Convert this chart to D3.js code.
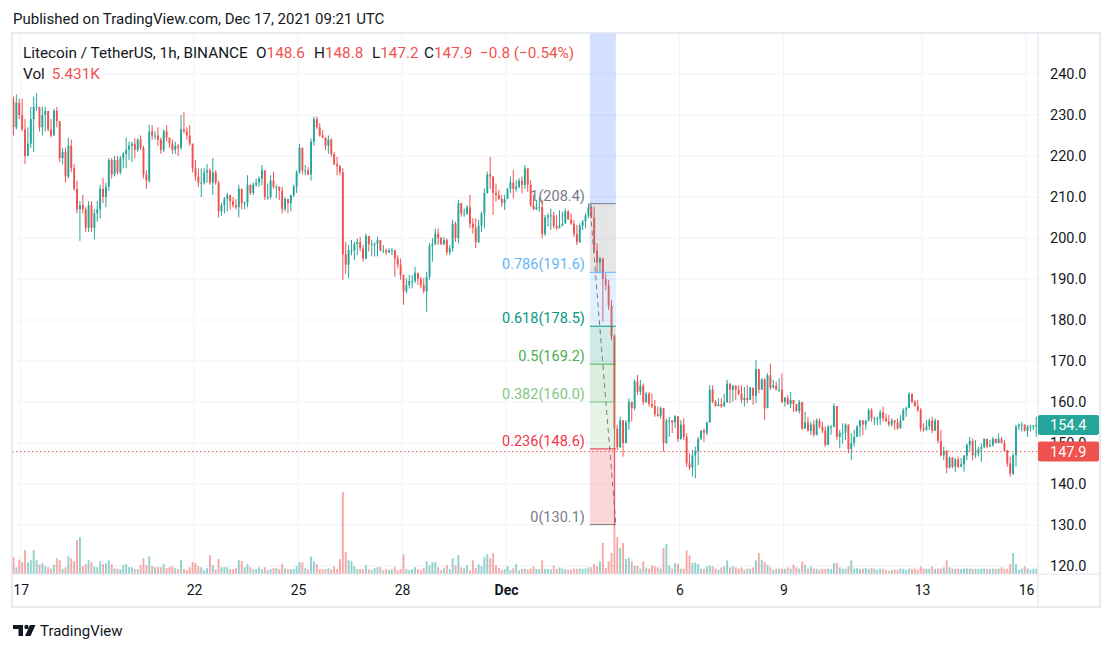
<!DOCTYPE html>
<html>
<head>
<meta charset="utf-8">
<script src="https://cdn.jsdelivr.net/npm/d3@7"></script>
<style>
  body { margin: 0; background: #fff; }
  svg text { font-family: Roboto, "Noto Sans", sans-serif; }
</style>
</head>
<body>
<svg id="chart" width="1113" height="652"></svg>
<script>
// LTC/USDT candles, 2h each, first one opens Nov 16 18:00 UTC
const startTime = Date.UTC(2021, 10, 16, 18);
const stepHours = 2;
const firstOpen = 233.5;

const closes = [
  227,233,230,226.5,220,223,229,232,232,227,
  230,231,226.5,225,231,228.5,219.5,221,215,222.5,
  217,212,207,208,207,202.5,208,202.5,206,207,
  212,210,212.5,219,215.5,219,216,219.5,220.5,221.5,
  222.5,223,221.5,224,222,215.5,214,226,225,225,
  224,221.5,226,224.5,223,221.5,222.5,222,226.5,226,
  225,223,217,215,213.5,213.5,216,216.5,213.5,216,
  213.5,206.5,208,209.5,210.5,209,208,207.5,212,208.5,
  208.5,213,211,213,213.5,214.5,216.5,210,210,214,
  212.5,212.5,211.5,207,209.5,208.5,210.5,212.5,216,222,
  216.5,216.5,215.5,223.5,229,227,225,224.5,222.5,224,
  220.5,218,217.5,216,196,193.5,197,197,198.5,199,
  197.5,195,200.5,198.5,198.5,198.5,199.5,197,197,196.5,
  197,197,195,193.5,191,187,188.5,189.5,189.5,191.5,
  190,188.5,187,190.5,198,198.5,201,200,198.5,199.5,
  196.5,197.5,203.5,200,208.5,206,206,207.5,203.5,202.5,
  199,203,206,211,215.5,215,211,210.5,209.5,208.5,
  209.5,212,213.5,212,212.5,214,213,217,213,208,
  207,207.5,207.5,201,205,205.5,205.5,203,202.5,203,
  203.5,206.5,204.5,203.5,201,199,203,204,205.5,207.5,
  205,197,194,195,190,188.5,183.5,176,153.5,149,
  155.5,150,155,160,158.5,165,162.5,164,160,162,
  159.5,159,157,156.6,158.5,150,155.5,155.5,155,156.5,
  151,154.5,151.5,145,144,147,148,151,153,152.5,
  155,163,160,159,159.5,159,160,164.5,163,164,
  163,162,160.5,161,160.5,163.5,161.5,168,163,165.5,
  158.5,166.5,163.5,164,163,163,160,161,159.5,160.5,
  159.5,157.8,160,153.5,155,153,154.5,152,155.5,154,
  153,149.5,154,154,159,151.5,152.5,152.5,154.5,148.5,
  150,151.5,154,155.5,154.5,155.5,158,156,156,156,
  157.5,156,155.3,154.5,155.5,155,153.6,155.5,158,158.5,
  162,160,159,158,153.5,153.2,154,155.5,153,155.5,
  150.5,147,148,144,146.5,144.2,146,144.2,144.8,146.9,
  149.5,150.5,147,147.5,148.5,149,151,149.2,149.5,151,
  150,151,150,148.2,145,142.5,147,154,154.5,154.5,
  153,154,154,154.2,154.4
];

const highs = [
  234.5,235,234,234,229,227,232,234.5,235.3,232,
  232,232,230.5,229,231.5,232,228.5,222,222,224.5,
  224,218,214,209,210.5,207.5,209,209,207,209,
  213,214.6,213.5,219.5,219.5,220,220,220,221,224.5,
  223.5,223.5,224.3,224.3,225,222.5,216.5,227.6,227.5,226,
  227,224.5,226.5,227.5,224.5,224,223.5,223,230,230.8,
  227,227.5,223,219,217,217,217,218,217,219.5,
  216.5,214,208.5,210,211,210.5,210,209.5,213,212,
  209,215.3,213,213.5,214.5,215,217.8,216.5,213.3,215.3,
  216.2,213,212.5,212.5,210,209.5,210.5,213,216.5,223,
  222,217.8,217.3,224.3,229.6,229.6,228,226.3,224.5,225,
  224.3,221,219.8,217.8,217,199,198.3,199.5,199.1,199.9,
  200.3,198.3,201.1,200.5,199.5,199,200.3,199.5,198.3,197.5,
  197.5,197.5,197.1,195.8,195,191,190.2,191,191,193,
  191.5,190.5,190.2,191.8,198.7,200,202.3,202.3,200.3,200.3,
  199.9,198.3,204.4,204,209.3,208.5,207.2,208,210.5,204.8,
  204.8,204.4,206.4,212.1,216.2,219.8,215,213.3,211.7,210.5,
  210.5,212.1,215,216.6,214.2,214.6,215,217.8,217,214.1,
  210.5,209.3,210,209.3,205.6,206,207.2,206.4,205.6,206.8,
  206.4,207.2,206.8,206,204.4,203.2,203.6,204.4,206,208.4,
  208.2,207.6,198.7,195.4,195.2,191.4,189.8,184.9,176.5,154.4,
  156.4,155.6,155.6,160.9,160.1,165.5,166.6,165.4,164.5,162.5,
  162.5,162.1,160.5,158.9,158.9,158.5,156,156.4,155.6,156.8,
  156.5,155.6,156,152.4,147.5,148.3,149.1,151.5,153.2,153.6,
  155.2,164.1,164.1,160.5,160.9,160.9,162.1,165.4,164.5,164.1,
  164,164.1,164.1,163.7,164.1,163.7,163.5,170.2,168,165.8,
  165.8,167,169.4,165.4,165,165.8,167,161.3,161.7,162.5,
  160.5,159.5,160.5,160,157.6,156.4,155.2,155.6,156,156,
  155.2,154,154.4,154.4,159.7,159,153.2,154.8,154.8,154.5,
  152.4,153.2,154.4,155.6,155.6,155.6,158.5,158.5,156.4,156.4,
  158.1,158.9,157.2,156.8,156,155.6,156,156.8,158.5,158.9,
  162.5,162.1,160.5,160.5,158.5,154.8,155.6,156,156.4,156,
  155.6,153.2,149.1,148.3,146.7,146.5,146.3,146.7,146.3,147.1,
  149.9,151.5,151.1,150.7,149.1,149.9,151.1,151,150.7,151.5,
  151.1,152.4,151.5,150.7,148.3,146.7,147.5,154.4,154.8,155.2,
  154.5,154.4,154.4,154.4,156.4
];

const lows = [
  225,226.5,229,226,218,221,222,221,231,226,
  225,226,226,224.5,225,227,218.5,218,213.5,214.5,
  216,211.5,206,199.3,206,201.5,201.5,201.5,199.7,204,
  204.8,208.5,207.5,211.5,214.5,215,215.5,215.5,217,217,
  219,218.5,219.5,221,221.5,214.5,212,213.5,224,224,
  222.5,220.5,221,223.5,222,220.5,220.5,220,221.5,225.5,
  224,222.5,216,214,212.5,210,213,213.5,213,210.5,
  213,205,205.5,206,206.5,207,207.5,207,205,207,
  207,207.5,210.5,210.5,212.5,212.5,212.9,209.3,209.3,209.5,
  212,209.7,209.3,206,206.5,206,206.5,210,211,215.7,
  215.5,215.3,215.3,214,222.5,226.5,224.7,224.3,221.5,220.5,
  219.8,217.8,215.3,215.3,189.8,191.3,190.2,195.8,194.6,195.8,
  196.7,194.2,194.8,196.7,195.5,195.5,195.5,196.7,196.3,195.8,
  196.3,195.8,190.5,192.6,189.8,183.7,186.5,187.7,187.7,189,
  188.5,187.7,186.5,182,189.8,194.2,198.3,198.3,198.3,198.3,
  195.8,195.8,196.7,199.1,198.7,205.2,205.2,205.6,202.4,201.1,
  197.5,198.8,201.5,202.3,210.8,212,205.6,208.9,209.3,207.6,
  206.8,209.5,210.9,209.7,211.3,212.1,210.9,212,211.3,207.6,
  206.8,206.8,206.4,199.9,200.5,202.8,202,202.3,202,202.3,
  202.8,203.6,204.4,203.2,200.3,198.3,198.8,201.9,202.4,204.8,
  204.8,196.3,191.4,191.4,179.6,187.3,182.4,175,129.6,148.3,
  148.8,146.7,149.9,153.2,155.2,158,161.7,161.7,159.3,159.8,
  158.9,158.5,156.4,156.4,156,147.9,149.8,151.5,152.4,153.6,
  150.3,150.8,150.7,144.2,143.4,141.8,141.4,144.6,150.7,150.3,
  151.9,155,159.7,158.9,158.9,158.5,158.8,159.7,159.7,160.1,
  160.5,161.7,159.7,158.9,159.7,160.5,159.3,159.7,162.1,162.9,
  155.6,158.5,162.9,163.3,162.9,162.5,159.7,158.9,159.3,158.5,
  157.6,157.6,157.2,153.2,153.5,152.8,151.9,151.5,151.8,153.6,
  152.4,149.1,149.5,152,153.8,150.7,148.7,149.9,150.7,147.5,
  145.8,149.1,151.5,151.5,151.9,153.2,155.2,155.2,154.4,154.4,
  154.4,155.2,155.2,154,154,153.2,153.2,153.6,155.5,156.4,
  158.5,159.7,158.9,157.6,152.8,152.8,153,153.2,152.4,153,
  149.9,146.7,145.8,142.6,143.8,143.8,143,143.8,144.2,143,
  145.8,147.9,145.8,146.3,146.7,145.4,148.8,148.7,149,149.1,
  149.9,149.9,149.9,147.9,144.2,141.8,142.2,144.2,153.2,152.8,
  152.8,151.5,152.8,153.2,151.5
];

// volume, thousands of LTC
const volumes = [
  84,34,72,59,119,59,69,119,69,47,
  54,39,34,27,47,79,69,27,34,89,
  79,64,169,184,39,49,69,59,37,34,
  64,49,54,69,49,27,27,24,44,49,
  34,34,24,24,44,79,44,89,39,34,
  34,34,49,29,34,39,29,24,69,24,
  19,34,59,54,39,34,19,29,94,44,
  24,74,34,34,34,24,24,29,69,64,
  34,49,34,24,24,34,24,34,19,24,
  29,29,24,49,29,24,24,24,39,59,
  59,29,24,87,64,49,24,24,24,29,
  24,39,24,74,409,109,69,64,39,24,
  24,24,44,24,19,29,34,34,19,24,
  19,24,34,19,24,99,24,19,24,34,
  24,19,29,64,44,59,59,34,19,29,
  44,24,79,44,94,34,29,44,19,69,
  29,49,39,84,99,79,104,44,29,19,
  24,39,19,29,49,19,25,26,24,27,
  38,25,24,68,26,25,23,43,25,33,
  27,24,21,22,27,26,27,26,28,33,
  34,50,38,63,155,30,63,105,238,183,
  131,155,75,80,63,40,40,27,63,33,
  27,43,38,33,27,130,150,43,27,55,
  51,27,26,118,93,55,58,50,27,26,
  38,43,38,27,21,33,38,68,33,38,
  33,27,33,21,27,26,33,68,105,71,
  60,46,33,21,27,26,27,26,33,27,
  46,33,27,63,46,27,38,27,26,21,
  27,26,27,25,55,55,33,27,26,38,
  68,27,30,26,27,30,26,30,27,21,
  27,26,21,16,21,22,21,27,26,21,
  27,26,27,21,38,27,26,27,38,26,
  27,28,33,68,33,27,26,27,25,27,
  28,27,26,27,25,27,28,26,25,27,
  26,27,33,26,27,50,105,50,21,27,
  38,27,21,27,26
];

const priceTicks = [120,130,140,150,160,170,180,190,200,210,220,230,240];
const dayTicks = ["2021-11-17","2021-11-22","2021-11-25","2021-11-28","2021-12-01","2021-12-06","2021-12-09","2021-12-13","2021-12-16"];
const dayLabels = ["17","22","25","28","Dec","6","9","13","16"];

// fib retracement drawn on the chart
const fibStart = { time: "2021-12-03T10:00:00Z", price: 208.38 };
const fibEnd = { time: "2021-12-04T04:00:00Z", price: 130.1 };
const fibLevels = [0, 0.236, 0.382, 0.5, 0.618, 0.786, 1, 1.618];
const fibColors = ["#787b86","#f23645","#81c784","#4caf50","#089981","#64b5f6","#787b86","#2962ff"];

const lastPrice = 147.9;
const legendName = "Litecoin / TetherUS, 1h, BINANCE";
const legendKeys = ["O","H","L","C"];
const legendValues = ["148.6","148.8","147.2","147.9"];
const legendChange = "\u22120.8 (\u22120.54%)";
const legendVol = "5.431K";

const up = "#26a69a", down = "#ef5350", textColor = "#131722", gridColor = "#f0f3fa", frameColor = "#e0e3eb";
const L = 12, R = 1038, T = 33, B = 574, AXR = 1100, AXB = 607;

const svg = d3.select("#chart");

const x = d3.scaleUtc()
  .domain([new Date(Date.UTC(2021,10,17)), new Date(Date.UTC(2021,11,16))])
  .range([20.7, 1026.1]);
const y = d3.scaleLinear().domain([120, 240]).range([566, 74]);
const yv = d3.scaleLinear().domain([0, d3.max(volumes)]).range([0, 82]);

const hour = 3600e3;
const candles = closes.map((c, i) => ({
  t: new Date(startTime + (i * stepHours + stepHours / 2) * hour),
  o: i ? closes[i - 1] : firstOpen,
  h: highs[i], l: lows[i], c: c, v: volumes[i]
}));
const step = x(new Date(startTime + stepHours * hour)) - x(new Date(startTime));
const bw = step * 0.66;

svg.append("defs").append("clipPath").attr("id", "pane")
  .append("rect").attr("x", L).attr("y", T).attr("width", R - L).attr("height", B - T);

// grid
const grid = svg.append("g");
grid.selectAll(".hg").data(priceTicks).enter().append("line")
  .attr("x1", L).attr("x2", R).attr("y1", d => y(d)).attr("y2", d => y(d))
  .attr("stroke", gridColor);
grid.selectAll(".vg").data(dayTicks).enter().append("line")
  .attr("x1", d => x(new Date(d))).attr("x2", d => x(new Date(d)))
  .attr("y1", T).attr("y2", B).attr("stroke", gridColor);

const plot = svg.append("g").attr("clip-path", "url(#pane)");

// volume
plot.selectAll(".vol").data(candles).enter().append("rect")
  .attr("x", d => x(d.t) - bw / 2).attr("width", bw)
  .attr("y", d => B - yv(d.v)).attr("height", d => yv(d.v))
  .attr("fill", d => d.c >= d.o ? up : down).attr("opacity", 0.5);

// candles
plot.selectAll(".wick").data(candles).enter().append("line")
  .attr("x1", d => x(d.t)).attr("x2", d => x(d.t))
  .attr("y1", d => y(d.h)).attr("y2", d => y(d.l))
  .attr("stroke", d => d.c >= d.o ? up : down).attr("stroke-width", 1);
plot.selectAll(".body").data(candles).enter().append("rect")
  .attr("x", d => x(d.t) - bw / 2).attr("width", bw)
  .attr("y", d => y(Math.max(d.o, d.c)))
  .attr("height", d => Math.max(1, Math.abs(y(d.o) - y(d.c))))
  .attr("fill", d => d.c >= d.o ? up : down);

// fib retracement
const fx1 = x(new Date(fibStart.time)), fx2 = x(new Date(fibEnd.time));
const fibPrice = lv => fibEnd.price + lv * (fibStart.price - fibEnd.price);
const fib = plot.append("g");
for (let k = 0; k < fibLevels.length - 1; k++) {
  const yA = y(fibPrice(fibLevels[k])), yB = y(fibPrice(fibLevels[k + 1]));
  fib.append("rect").attr("x", fx1).attr("width", fx2 - fx1)
    .attr("y", yB).attr("height", yA - yB)
    .attr("fill", fibColors[k + 1]).attr("fill-opacity", 0.2);
}
const shownLevels = fibLevels.filter(lv => y(fibPrice(lv)) > T);
fib.selectAll(".fl").data(shownLevels).enter().append("line")
  .attr("x1", fx1).attr("x2", fx2)
  .attr("y1", d => y(fibPrice(d))).attr("y2", d => y(fibPrice(d)))
  .attr("stroke", (d, i) => fibColors[i]).attr("stroke-width", 1);
fib.selectAll(".ft").data(shownLevels).enter().append("text")
  .attr("x", fx1 - 5).attr("y", d => y(fibPrice(d)) - 3)
  .attr("text-anchor", "end").attr("font-size", 14.5)
  .attr("fill", (d, i) => fibColors[i])
  .text(d => d + "(" + fibPrice(d).toFixed(1) + ")");
fib.append("line")
  .attr("x1", fx1).attr("y1", y(fibStart.price))
  .attr("x2", fx2).attr("y2", y(fibEnd.price))
  .attr("stroke", "#787b86").attr("stroke-dasharray", "5 4");

// last price line
plot.append("line").attr("x1", L).attr("x2", R)
  .attr("y1", y(lastPrice)).attr("y2", y(lastPrice))
  .attr("stroke", down).attr("stroke-dasharray", "1.5 2.5");

// frame
const frame = svg.append("g").attr("stroke", frameColor).attr("fill", "none");
frame.append("rect").attr("x", L).attr("y", T).attr("width", AXR - L).attr("height", AXB - T).attr("stroke-width", 1.5);
frame.append("line").attr("x1", R).attr("x2", R).attr("y1", T).attr("y2", AXB);
frame.append("line").attr("x1", L).attr("x2", AXR).attr("y1", B).attr("y2", B);

// price axis
const yAxis = svg.append("g").attr("transform", "translate(" + R + ",0)")
  .call(d3.axisRight(y).tickValues(priceTicks).tickSize(0).tickPadding(12).tickFormat(d3.format(".1f")));
yAxis.select(".domain").remove();
yAxis.selectAll("text").attr("font-size", 14.5).attr("fill", textColor).style("font-family", "Roboto");

// price labels
const lastVisible = closes[closes.length - 1];
[[lastVisible, up], [lastPrice, down]].forEach(([p, col]) => {
  svg.append("rect").attr("x", R).attr("y", y(p) - 10).attr("width", AXR - R - 1).attr("height", 20)
    .attr("rx", 2).attr("fill", col);
  svg.append("text").attr("x", R + 12).attr("y", y(p)).attr("dy", "0.35em")
    .attr("font-size", 14.5).attr("fill", "#fff").text(p.toFixed(1));
});

// time axis
const xAxis = svg.append("g").attr("transform", "translate(0," + B + ")")
  .call(d3.axisBottom(x).tickValues(dayTicks.map(d => new Date(d))).tickSize(0).tickPadding(11)
    .tickFormat((d, i) => dayLabels[i]));
xAxis.select(".domain").remove();
xAxis.selectAll("text").attr("font-size", 14).attr("fill", textColor).style("font-family", "Roboto")
  .attr("font-weight", (d, i) => dayLabels[i] === "Dec" ? "bold" : null);

// header and legend
svg.append("text").attr("x", 13).attr("y", 24).attr("font-size", 15).attr("fill", textColor)
  .text("Published on TradingView.com, Dec 17, 2021 09:21 UTC");
svg.append("text").attr("x", 23).attr("y", 58).attr("font-size", 15.3).attr("fill", textColor).text(legendName);
const keyX = [256, 314, 372, 424];
legendKeys.forEach((k, i) => {
  const t = svg.append("text").attr("x", keyX[i]).attr("y", 58).attr("font-size", 15.3);
  t.append("tspan").attr("fill", textColor).text(k);
  t.append("tspan").attr("fill", down).text(legendValues[i]);
});
svg.append("text").attr("x", 480).attr("y", 58).attr("font-size", 15.3).attr("fill", down).text(legendChange);
const vt = svg.append("text").attr("x", 23).attr("y", 79).attr("font-size", 15.3);
vt.append("tspan").attr("fill", textColor).text("Vol");
vt.append("tspan").attr("dx", 7).attr("fill", down).text(legendVol);

// TradingView logo
const logo = svg.append("g").attr("fill", textColor);
logo.append("path").attr("d", "M13,625 H23 V636 H18.5 V629 H13 Z");
logo.append("circle").attr("cx", 26.5).attr("cy", 627).attr("r", 2.2);
logo.append("path").attr("d", "M30,625 H35.5 L30.5,636 H25 Z");
svg.append("text").attr("x", 40).attr("y", 635.5).attr("font-size", 15).attr("fill", textColor).text("TradingView");
</script>
</body>
</html>
